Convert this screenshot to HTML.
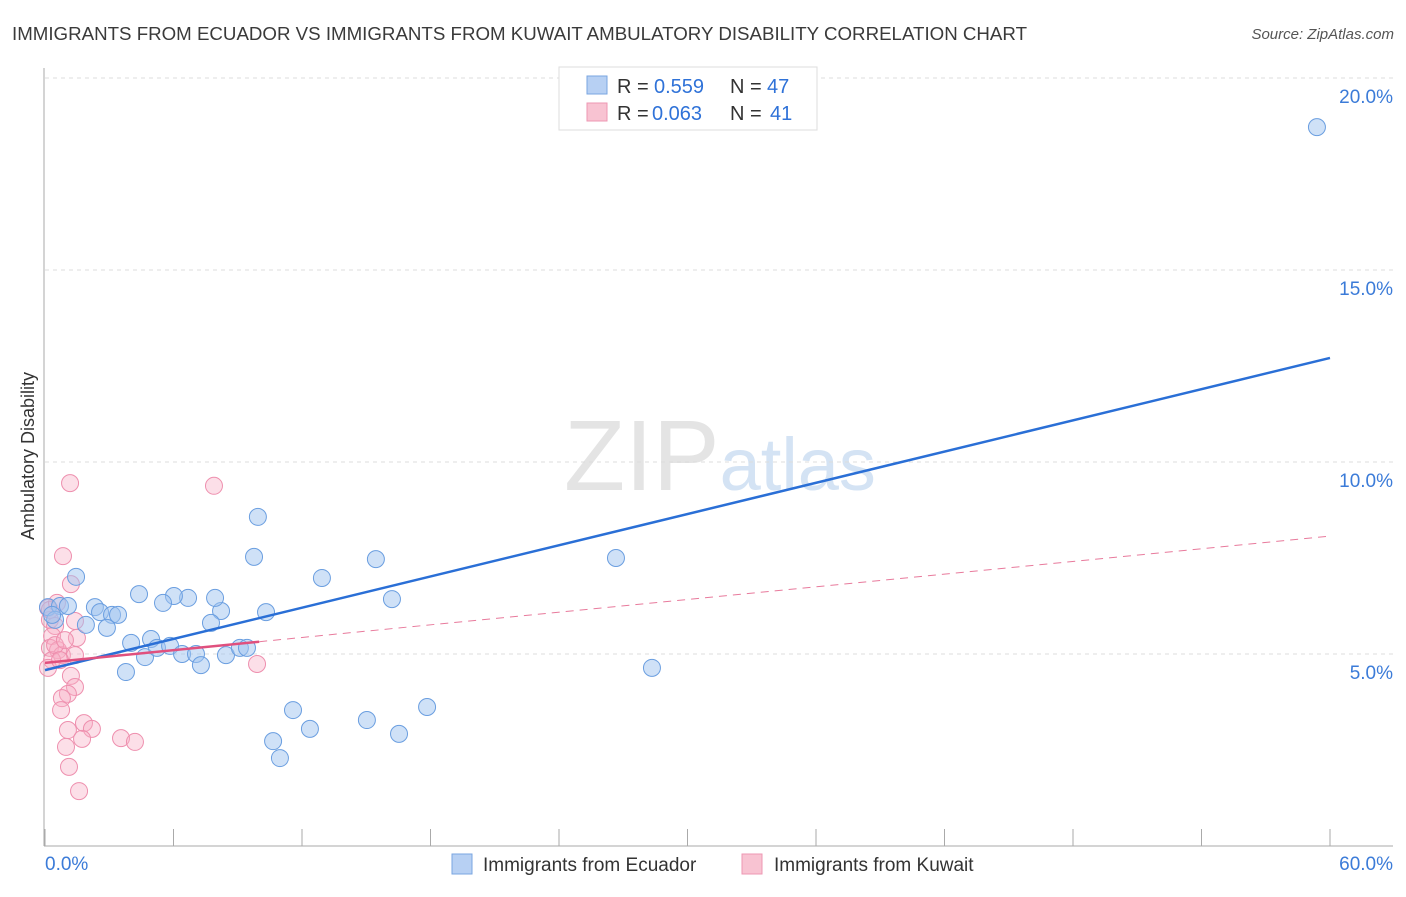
<!DOCTYPE html>
<html><head><meta charset="utf-8"><style>
body{margin:0;background:#fff;font-family:"Liberation Sans",sans-serif;}
svg text{font-family:"Liberation Sans",sans-serif;}
</style></head><body>
<svg id="chart" width="1406" height="892" viewBox="0 0 1406 892" xmlns="http://www.w3.org/2000/svg">
<text x="12" y="40" font-size="18" fill="#3a3a3a" textLength="1015" lengthAdjust="spacingAndGlyphs">IMMIGRANTS FROM ECUADOR VS IMMIGRANTS FROM KUWAIT AMBULATORY DISABILITY CORRELATION CHART</text>
<text x="1394" y="39" font-size="15" fill="#555" text-anchor="end" font-style="italic">Source: ZipAtlas.com</text>
<text x="720" y="490" font-size="100" fill="#e4e4e4" text-anchor="middle" font-family="Liberation Serif"><tspan>ZIP</tspan><tspan fill="#d4e3f4" font-family="Liberation Sans" font-size="74">atlas</tspan></text>
<g id="grid"></g>
<g id="axes"></g>
<g id="pts"></g>
<g id="trends"></g>
<text transform="translate(34,456) rotate(-90)" font-size="18" fill="#333" text-anchor="middle">Ambulatory Disability</text>
<g>
<rect x="559" y="67" width="258" height="63" fill="#fff" stroke="#ddd"/>
<rect x="587" y="76" width="20" height="18" fill="#b7d0f3" stroke="#7aa6e0"/>
<rect x="587" y="103" width="20" height="18" fill="#f8c3d2" stroke="#ee97b3"/>
<text x="617" y="93" font-size="20" fill="#333">R =</text>
<text x="654" y="93" font-size="20" fill="#2f72d8">0.559</text>
<text x="730" y="93" font-size="20" fill="#333">N =</text>
<text x="767" y="93" font-size="20" fill="#2f72d8">47</text>
<text x="617" y="120" font-size="20" fill="#333">R =</text>
<text x="652" y="120" font-size="20" fill="#2f72d8">0.063</text>
<text x="730" y="120" font-size="20" fill="#333">N =</text>
<text x="770" y="120" font-size="20" fill="#2f72d8">41</text>
</g>
<g>
<rect x="452" y="854" width="20" height="20" fill="#b7d0f3" stroke="#7aa6e0"/>
<text x="483" y="871" font-size="19" fill="#333">Immigrants from Ecuador</text>
<rect x="742" y="854" width="20" height="20" fill="#f8c3d2" stroke="#ee97b3"/>
<text x="774" y="871" font-size="19" fill="#333">Immigrants from Kuwait</text>
</g>
</svg>
<script>
const blueX=[59.39,26.66,28.34,9.94,9.76,15.45,12.93,16.20,10.32,8.22,7.94,6.68,6.02,4.39,5.51,1.45,0.14,0.70,1.07,2.33,2.57,3.13,3.41,1.91,2.89,0.47,4.95,4.02,4.67,5.23,5.84,6.40,7.05,7.28,7.75,8.45,9.10,9.43,3.78,11.58,12.37,10.65,10.97,15.03,16.53,17.84,0.33];
const blueY=[18.72,7.50,4.64,8.57,7.53,7.47,6.98,6.43,6.09,6.12,6.46,6.46,6.51,6.56,6.33,7.01,6.22,6.25,6.25,6.22,6.09,6.02,6.02,5.76,5.68,5.89,5.39,5.29,4.92,5.16,5.21,5.00,5.00,4.71,5.81,4.97,5.16,5.16,4.53,3.54,3.05,2.73,2.29,3.28,2.92,3.62,6.02];
const pinkX=[1.17,7.89,0.84,1.21,0.14,0.23,0.47,1.40,1.49,0.33,0.23,0.61,0.79,1.40,0.33,0.14,9.90,1.21,1.40,1.07,0.79,0.75,1.82,2.19,1.07,1.73,0.98,3.55,4.20,1.12,1.59,0.47,0.93,0.23,0.56,0.70];
const pinkY=[9.45,9.38,7.55,6.82,6.20,5.89,5.73,5.86,5.42,5.47,5.16,5.10,4.97,4.97,4.84,4.64,4.74,4.43,4.14,3.96,3.85,3.54,3.20,3.05,3.02,2.79,2.58,2.81,2.71,2.06,1.43,5.23,5.36,6.15,6.33,4.84];
const yTicks=[5,10,15,20];
const yTickLabels=["5.0%","10.0%","15.0%","20.0%"];
const xTicks=[0,6,12,18,24,30,36,42,48,54,60];
const blueTrend=[4.58,12.71];
const pinkTrend=[4.77,8.07];
const pinkSolidEnd=10;
const NS="http://www.w3.org/2000/svg";
function sx(v){return 45+v/60*1285;}
function sy(v){return 846-v*38.4;}
function mk(tag,attrs,parent){const e=document.createElementNS(NS,tag);for(const k in attrs)e.setAttribute(k,attrs[k]);document.getElementById(parent).appendChild(e);return e;}
yTicks.forEach((t,i)=>{
 const l=mk('line',{x1:45,x2:1393,y1:sy(t),y2:sy(t),stroke:'#ddd','stroke-dasharray':'4,4'},'grid');
 
 
 const tx=mk('text',{x:1393,y:sy(t)+25,'font-size':19,fill:'#3b7bd8','text-anchor':'end'},'grid');
 tx.textContent=yTickLabels[i];
 
 
});
const ya=mk('line',{x1:44,x2:44,y1:68,y2:846,stroke:'#aaa'},'axes');


const xa=mk('line',{x1:44,x2:1393,y1:846,y2:846,stroke:'#aaa'},'axes');


xTicks.forEach(t=>{
 const l=mk('line',{x1:sx(t),x2:sx(t),y1:829,y2:846,stroke:'#aaa'},'axes');
 
 
});
const x0=mk('text',{x:45,y:870,'font-size':19,fill:'#3b7bd8'},'axes');x0.textContent='0.0%';


const x1=mk('text',{x:1393,y:870,'font-size':19,fill:'#3b7bd8','text-anchor':'end'},'axes');x1.textContent='60.0%';


pinkX.forEach((x,i)=>{
 const c=mk('circle',{cx:sx(x),cy:sy(pinkY[i]),r:8.5,fill:'rgba(248,175,198,0.4)',stroke:'#ee8fae','stroke-width':1},'pts');
 
 
});
blueX.forEach((x,i)=>{
 const c=mk('circle',{cx:sx(x),cy:sy(blueY[i]),r:8.5,fill:'rgba(160,196,240,0.5)',stroke:'#6a9ee0','stroke-width':1},'pts');
 
 
});
const bt=mk('line',{x1:sx(0),y1:sy(blueTrend[0]),x2:sx(60),y2:sy(blueTrend[1]),stroke:'#2a6fd6','stroke-width':2.5},'trends');


const pe=pinkTrend[0]+(pinkTrend[1]-pinkTrend[0])*pinkSolidEnd/60;
const pd=mk('line',{x1:sx(pinkSolidEnd),y1:sy(pe),x2:sx(60),y2:sy(pinkTrend[1]),stroke:'#e87a9c','stroke-width':1,'stroke-dasharray':'8,6'},'trends');


const ps=mk('line',{x1:sx(0),y1:sy(pinkTrend[0]),x2:sx(pinkSolidEnd),y2:sy(pe),stroke:'#e0507e','stroke-width':2.5},'trends');


</script>
</body></html>
